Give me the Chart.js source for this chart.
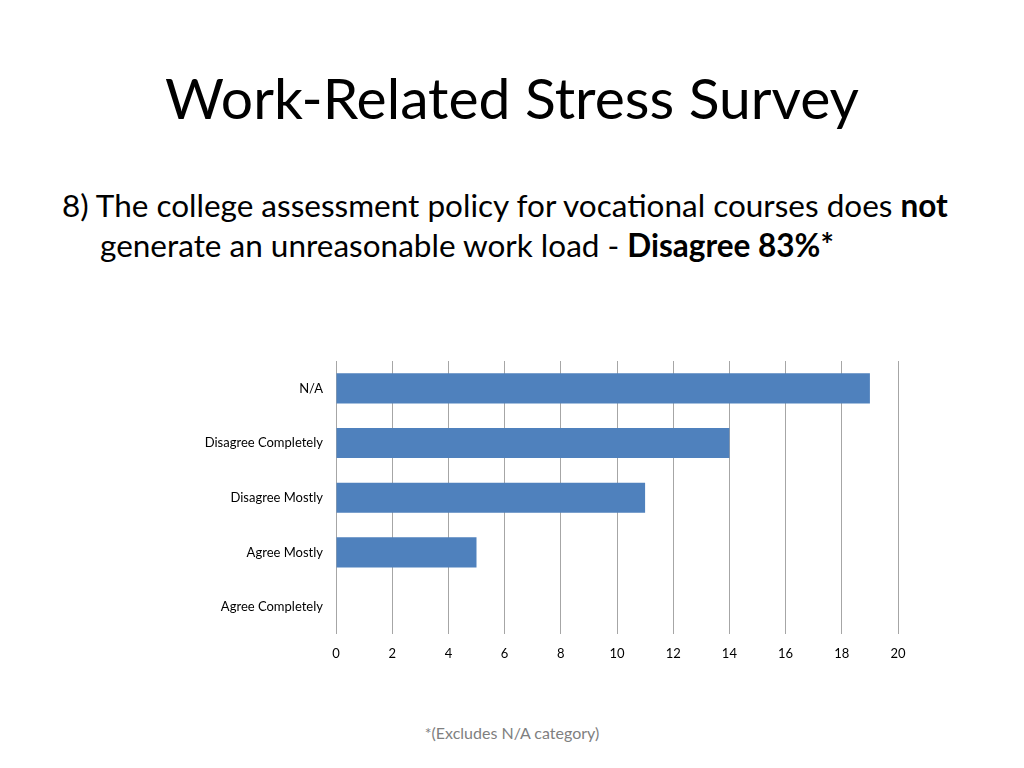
<!DOCTYPE html>
<html>
<head>
<meta charset="utf-8">
<script src="https://cdn.jsdelivr.net/npm/chart.js@4"></script>
<style>
  body { margin: 0; width: 1024px; height: 768px; background: #fff; font-family: Lato, "Open Sans", sans-serif; position: relative; overflow: hidden; }
  #title { position: absolute; left: 0; top: 63px; width: 1024px; text-align: center; font-size: 57px; color: #000; white-space: nowrap; }
  #question { position: absolute; left: 62px; top: 185px; width: 960px; font-size: 31.5px; line-height: 40px; color: #000; padding-left: 38px; text-indent: -38px; white-space: nowrap; }
  #note { position: absolute; left: 0; top: 723px; width: 1024px; text-align: center; font-size: 16px; color: #7f7f7f; }
  #wrap { position: absolute; left: 0; top: 340px; width: 1024px; height: 340px; }
</style>
</head>
<body>
<div id="title">Work-Related Stress Survey</div>
<div id="question">8) The college assessment policy for vocational courses does <b>not</b><br>generate an unreasonable work load - <b>Disagree 83%*</b></div>
<div id="wrap"><canvas id="chart"></canvas></div>
<div id="note">*(Excludes N/A category)</div>
<script>
const categories = ['N/A', 'Disagree Completely', 'Disagree Mostly', 'Agree Mostly', 'Agree Completely'];
const responses = [19, 14, 11, 5, 0];
const xTicks = [0, 2, 4, 6, 8, 10, 12, 14, 16, 18, 20];

const ctx = document.getElementById('chart').getContext('2d');
new Chart(ctx, {
  type: 'bar',
  data: {
    labels: categories,
    datasets: [{
      label: 'Responses',
      data: responses,
      backgroundColor: '#4f81bd',
      borderWidth: 0,
      categoryPercentage: 1,
      barPercentage: 0.55
    }]
  },
  options: {
    indexAxis: 'y',
    responsive: true,
    maintainAspectRatio: false,
    animation: false,
    layout: { padding: { top: 21, right: 126, bottom: 6, left: 0 } },
    plugins: { legend: { display: false }, tooltip: { enabled: false } },
    scales: {
      x: {
        min: 0,
        max: 20,
        afterBuildTicks: axis => { axis.ticks = xTicks.map(v => ({ value: v })); },
        grid: { color: '#a6a6a6', lineWidth: 1, drawTicks: false },
        border: { display: false },
        ticks: { color: '#000', font: { family: 'Lato', size: 13 }, padding: 12 }
      },
      y: {
        afterFit: axis => { axis.width = 336; },
        grid: { display: false, drawTicks: false },
        border: { display: false },
        ticks: { color: '#000', font: { family: 'Lato', size: 13 }, padding: 13 }
      }
    }
  }
});
</script>
</body>
</html>
